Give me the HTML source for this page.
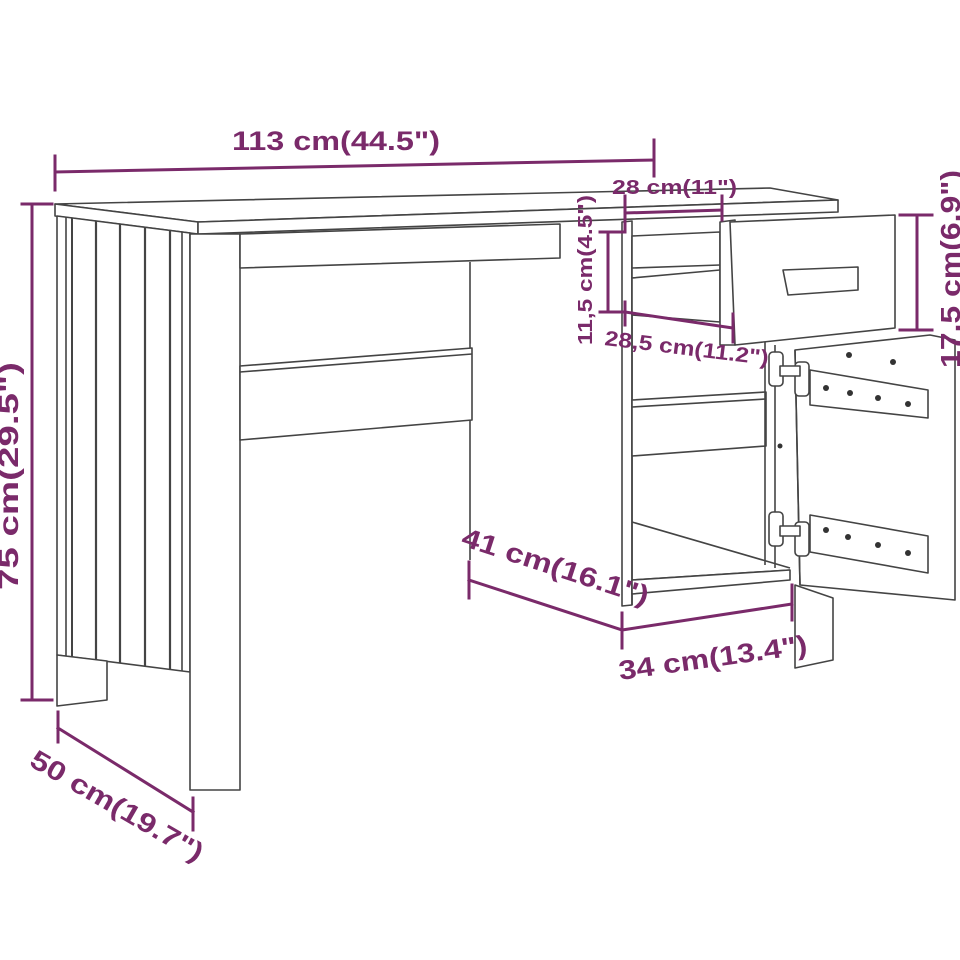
<!DOCTYPE html>
<html><head><style>body{margin:0;background:#fff}svg{display:block}</style></head>
<body>
<svg width="960" height="960" viewBox="0 0 960 960" xmlns="http://www.w3.org/2000/svg">
<g fill="#fff" stroke="#444" stroke-width="1.6" stroke-linejoin="round">
<polygon points="55,204 770,188 838,200 198,222"/>
<polygon points="55,204 198,222 198,234 55,216"/>
<polygon points="198,222 838,200 838,212 198,234"/>
<polygon points="57,216 190,233 190,672 57,655"/>
<line x1="66" y1="217" x2="66" y2="656"/>
<line x1="72" y1="218" x2="72" y2="657" stroke-width="2"/>
<line x1="96" y1="221" x2="96" y2="660" stroke-width="2.2"/>
<line x1="120" y1="224" x2="120" y2="663" stroke-width="2.2"/>
<line x1="145" y1="227" x2="145" y2="666" stroke-width="2.2"/>
<line x1="170" y1="230" x2="170" y2="669" stroke-width="2.2"/>
<line x1="182" y1="232" x2="182" y2="671"/>
<polygon points="57,655 107,661 107,700 57,706"/>
<rect x="190" y="234" width="50" height="556"/>
<polygon points="240,234 560,224 560,258 240,268"/>
<line x1="470" y1="262" x2="470" y2="560"/>
<polygon points="240,366 472,348 472,420 240,440"/>
<line x1="240" y1="372" x2="472" y2="354"/>
<polygon points="622,222 632,221 632,605 622,606"/>
<line x1="632" y1="240" x2="632" y2="605"/>
<polygon points="632,400 766,392 766,446 632,456" fill="#fff"/>
<line x1="632" y1="407" x2="766" y2="399"/>
<line x1="632" y1="522" x2="790" y2="568"/>
<line x1="632" y1="580" x2="790" y2="570"/>
<polygon points="632,580 790,570 790,580 632,594"/>
<line x1="765" y1="330" x2="765" y2="565"/>
<line x1="775" y1="345" x2="775" y2="568"/>
<polygon points="632,236 720,232 720,275 632,278"/>
<polygon points="632,278 720,270 720,322 632,315"/>
<line x1="632" y1="268" x2="720" y2="265"/>
<polygon points="720,222 735,220 735,345 720,345"/>
<polygon points="730,222 895,215 895,328 735,345"/>
<polygon points="783,270 858,267 858,290 788,295"/>
<polygon points="795,350 930,335 955,340 955,600 800,585"/>
<line x1="795" y1="350" x2="800" y2="585"/>
<polygon points="795,585 833,598 833,660 795,668"/>
<polygon points="810,370 928,390 928,418 810,405"/>
<polygon points="810,515 928,536 928,573 810,552"/>
<g fill="#333" stroke="none">
<circle cx="849" cy="355" r="3"/><circle cx="893" cy="362" r="3"/>
<circle cx="826" cy="388" r="3"/><circle cx="850" cy="393" r="3"/><circle cx="878" cy="398" r="3"/><circle cx="908" cy="404" r="3"/>
<circle cx="826" cy="530" r="3"/><circle cx="848" cy="537" r="3"/><circle cx="878" cy="545" r="3"/><circle cx="908" cy="553" r="3"/>
<circle cx="780" cy="446" r="2.5"/>
</g>
<rect x="769" y="352" width="14" height="34" rx="4"/>
<rect x="795" y="362" width="14" height="34" rx="4"/>
<rect x="780" y="366" width="20" height="10"/>
<rect x="769" y="512" width="14" height="34" rx="4"/>
<rect x="795" y="522" width="14" height="34" rx="4"/>
<rect x="780" y="526" width="20" height="10"/>
</g>
<g stroke="#7a2a6a" stroke-width="3" fill="none" stroke-linecap="square">
<line x1="55" y1="172" x2="654" y2="160"/><line x1="55" y1="156" x2="55" y2="190"/><line x1="654" y1="140" x2="654" y2="176"/>
<line x1="32" y1="205" x2="32" y2="700"/><line x1="22" y1="204" x2="52" y2="204"/><line x1="22" y1="700" x2="52" y2="700"/>
<line x1="58" y1="728" x2="193" y2="812"/><line x1="58" y1="712" x2="58" y2="742"/><line x1="193" y1="798" x2="193" y2="830"/>
<line x1="625" y1="213" x2="722" y2="210"/><line x1="625" y1="196" x2="625" y2="232"/><line x1="722" y1="196" x2="722" y2="220"/>
<line x1="608" y1="232" x2="608" y2="312"/><line x1="600" y1="232" x2="624" y2="232"/><line x1="600" y1="312" x2="624" y2="312"/>
<line x1="625" y1="312" x2="733" y2="328"/><line x1="625" y1="302" x2="625" y2="325"/><line x1="733" y1="314" x2="733" y2="342"/>
<line x1="917" y1="215" x2="917" y2="330"/><line x1="900" y1="215" x2="932" y2="215"/><line x1="900" y1="330" x2="932" y2="330"/>
<line x1="469" y1="580" x2="622" y2="630"/><line x1="469" y1="562" x2="469" y2="598"/><line x1="622" y1="613" x2="622" y2="648"/>
<line x1="622" y1="630" x2="792" y2="604"/><line x1="792" y1="585" x2="792" y2="620"/>
</g>
<g fill="#7a2a6a" font-family="Liberation Sans, sans-serif" font-weight="bold">
<text x="232" y="150" font-size="27" textLength="208" lengthAdjust="spacingAndGlyphs">113 cm(44.5")</text>
<text x="612" y="194" font-size="20" textLength="125" lengthAdjust="spacingAndGlyphs">28 cm(11")</text>
<text transform="translate(592,345) rotate(-90)" font-size="20" textLength="150" lengthAdjust="spacingAndGlyphs">11,5 cm(4.5")</text>
<text transform="translate(604,345) rotate(7)" font-size="21" textLength="165" lengthAdjust="spacingAndGlyphs">28,5 cm(11.2")</text>
<text transform="translate(960,368) rotate(-90)" font-size="28" textLength="198" lengthAdjust="spacingAndGlyphs">17,5 cm(6.9")</text>
<text transform="translate(18,590) rotate(-90)" font-size="28" textLength="228" lengthAdjust="spacingAndGlyphs">75 cm(29.5")</text>
<text transform="translate(28,765) rotate(30)" font-size="27" textLength="195" lengthAdjust="spacingAndGlyphs">50 cm(19.7")</text>
<text transform="translate(460,545) rotate(18)" font-size="27" textLength="195" lengthAdjust="spacingAndGlyphs">41 cm(16.1")</text>
<text transform="translate(620,680) rotate(-8)" font-size="27" textLength="190" lengthAdjust="spacingAndGlyphs">34 cm(13.4")</text>
</g>
</svg>
</body></html>
